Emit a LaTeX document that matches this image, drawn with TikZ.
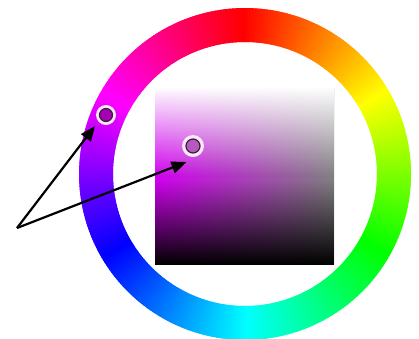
\documentclass[tikz,border=0pt]{standalone}
\usetikzlibrary{arrows.meta,fadings}
\tikzfading[name=fadetop, top color=transparent!0, bottom color=transparent!100]
\tikzfading[name=fadebot, top color=transparent!100, bottom color=transparent!0]
\definecolor{sqhue}{RGB}{210,0,240}
\definecolor{ringmark}{RGB}{165,0,180}
\definecolor{sqmark}{RGB}{180,90,190}
\definecolor{markring}{RGB}{60,30,60}
\definecolor{markhalo}{RGB}{250,232,250}
\begin{document}
\begin{tikzpicture}[x=1pt,y=-1pt,
  marker/.style={circle, inner sep=0pt, minimum size=21pt, fill=markhalo},
  dotmark/.style={draw=markring, line width=1.2pt},
  arr/.style={line width=2.2pt, -{Triangle[length=15pt,width=12pt]}}]
\useasboundingbox (0,0) rectangle (419,338);
\begin{scope}
\clip (0,0) rectangle (419,338);
\begin{scope}[shift={(245,174)}, yscale=-1]
\foreach \a in {0,...,359}{
  \pgfmathsetmacro\h{mod(450-\a,360)}
  \definecolor{tmp}{Hsb}{\h,1,1}
  \fill[tmp] (\a:132) arc[start angle=\a, end angle={\a+1.6}, radius=132] -- ({\a+1.6}:166) arc[start angle={\a+1.6}, end angle=\a, radius=166] -- cycle;
}
\end{scope}
\end{scope}
% saturation / lightness square
\fill[left color=sqhue, right color=gray] (155,88) rectangle (334,264);
\fill[white, path fading=fadetop] (155,87) rectangle (334,176);
\fill[black, path fading=fadebot] (155,180) rectangle (334,264.5);
% markers
\node[marker, minimum size=20pt] (m1) at (106,115) {};
\draw[dotmark, fill=ringmark] (m1.center) circle[radius=6.5pt];
\node[marker, minimum size=22pt] (m2) at (193,146) {};
\draw[dotmark, fill=sqmark] (m2.center) circle[radius=7pt];
% arrows
\coordinate (src) at (17,228);
\coordinate (t1) at (95,126);
\coordinate (t2) at (186.5,162);
\draw[arr] (src) -- (t1);
\draw[arr] (src) -- (t2);
\end{tikzpicture}
\end{document}
